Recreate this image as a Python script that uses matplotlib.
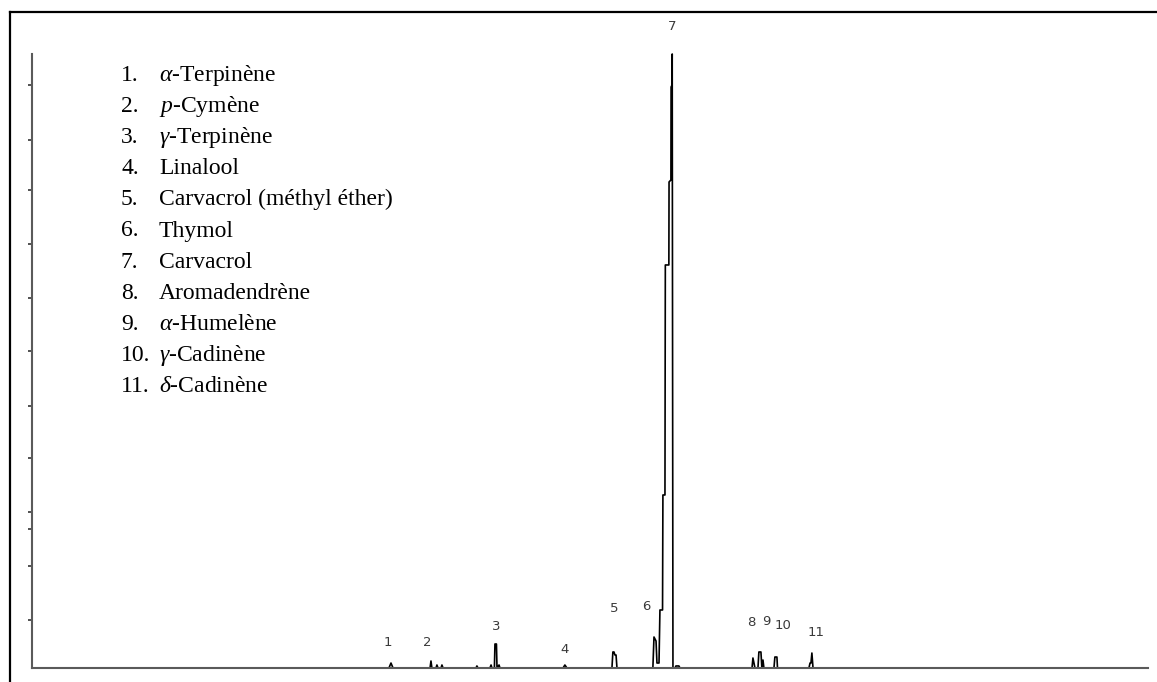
import matplotlib
matplotlib.use('Agg')
import matplotlib.pyplot as plt
from matplotlib.lines import Line2D

plt.rc('font', family='Liberation Serif')
plt.rc('mathtext', fontset='custom', rm='Liberation Serif',
       it='Liberation Serif:italic')

# chromatogram trace: retention time [min], relative abundance [%]
time = [0.00, 19.19, 19.30, 19.41,
        21.40, 21.45, 21.50, 21.72, 21.77, 21.83, 21.99, 22.04, 22.10,
        23.87, 23.92, 23.98,
        24.62, 24.68, 24.73, 24.86, 24.89, 24.97, 25.00, 25.11, 25.16,
        28.55, 28.65, 28.76,
        31.18, 31.23, 31.29, 31.34, 31.40, 31.45,
        33.38, 33.44, 33.55, 33.60, 33.71, 33.76, 33.90, 33.92, 34.03,
        34.05, 34.24, 34.25, 34.35, 34.36, 34.41, 34.42, 34.46,
        34.57, 34.62, 34.78, 34.84,
        38.71, 38.76, 38.87,
        39.03, 39.08, 39.19, 39.24, 39.30, 39.35,
        39.89, 39.94, 40.05, 40.08,
        41.77, 41.83, 41.88, 41.93, 41.99,
        60.00]
abundance = [0.00, 0.00, 0.81, 0.00,
             0.00, 1.14, 0.00, 0.00, 0.49, 0.00, 0.00, 0.49, 0.00,
             0.00, 0.33, 0.00,
             0.00, 0.49, 0.00, 0.00, 3.91, 3.91, 0.00, 0.49, 0.00,
             0.00, 0.49, 0.00,
             0.00, 2.61, 2.61, 2.12, 2.12, 0.00,
             0.00, 5.05, 4.40, 0.81, 0.81, 9.45, 9.45, 28.18, 28.18,
             65.64, 65.64, 79.16, 79.48, 94.63, 94.95, 100.00, 0.00,
             0.00, 0.33, 0.33, 0.00,
             0.00, 1.63, 0.00,
             0.00, 2.61, 2.61, 0.00, 1.30, 0.00,
             0.00, 1.79, 1.79, 0.00,
             0.00, 0.81, 0.81, 2.44, 0.00,
             0.00]

peak_ids = ['1', '2', '3', '4', '5', '6', '7', '8', '9', '10', '11']
label_time = [19.14, 21.24, 24.94, 28.65, 31.29, 33.01, 34.41,
              38.65, 39.46, 40.37, 42.15]
label_abund = [4.23, 4.23, 6.84, 3.09, 9.77, 9.94, 104.56,
               7.33, 7.65, 7.00, 5.86]

prefixes = [r'\alpha', 'p', r'\gamma', '', '', '', '', '',
            r'\alpha', r'\gamma', r'\delta']
names = ['Terpinène', 'Cymène', 'Terpinène', 'Linalool',
         'Carvacrol (méthyl éther)', 'Thymol', 'Carvacrol',
         'Aromadendrène', 'Humelène', 'Cadinène', 'Cadinène']

yticks = [94.95, 86.0, 77.85, 69.06, 60.26, 51.63, 42.67, 34.20,
          25.41, 22.64, 16.61, 7.82]

W, H = 1157, 682
fig = plt.figure(figsize=(W / 100, H / 100), dpi=100)

# frame of the original figure (only top and left survive the crop)
fig.add_artist(Line2D([10 / W, 1], [1 - 12 / H, 1 - 12 / H],
                      transform=fig.transFigure, color='black', lw=1.6))
fig.add_artist(Line2D([10 / W, 10 / W], [0, 1 - 12 / H],
                      transform=fig.transFigure, color='black', lw=1.6))

ax = fig.add_axes([32 / W, 14 / H, 1116 / W, 614 / H])
ax.plot(time, abundance, color='black', lw=1.2, clip_on=False)
ax.set_xlim(0, 60)
ax.set_ylim(0, 100)
for side in ['top', 'right']:
    ax.spines[side].set_visible(False)
for side in ['left', 'bottom']:
    ax.spines[side].set_color('#5a5a5a')
    ax.spines[side].set_linewidth(1.5)
ax.set_xticks([])
ax.set_yticks(yticks)
ax.tick_params(axis='y', length=3, width=1.2, color='#333333',
               labelleft=False)

for pid, t, a in zip(peak_ids, label_time, label_abund):
    ax.text(t, a, pid, ha='center', va='center', fontsize=9.5,
            family='DejaVu Sans', color='#3a3a3a', clip_on=False)

# list of compounds
for i, (pre, name) in enumerate(zip(prefixes, names)):
    y = 1 - (81 + 31.1 * i) / H
    fig.text(121 / W, y, f'{i + 1}.', fontsize=17, va='baseline')
    label = f'$\\mathit{{{pre}}}$-{name}' if pre else name
    fig.text(159 / W, y, label, fontsize=17, va='baseline')

fig.savefig('out.png', dpi=100)
